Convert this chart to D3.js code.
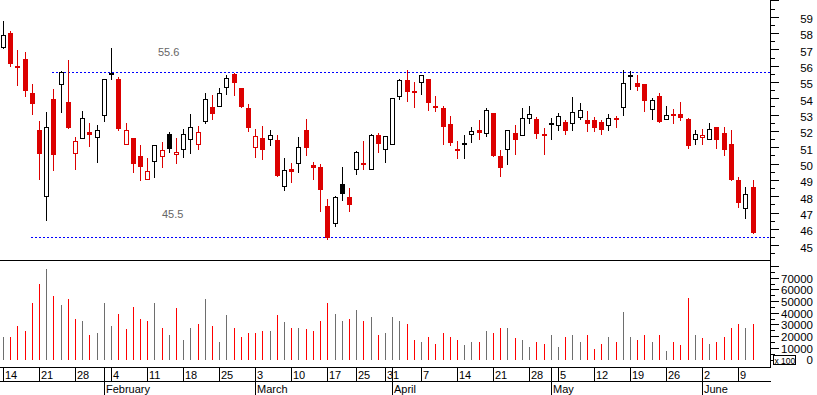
<!DOCTYPE html>
<html lang="en">
<head>
<meta charset="utf-8">
<title>Candlestick chart</title>
<script src="https://cdn.jsdelivr.net/npm/d3@7"></script>
<style>
  html, body { margin: 0; padding: 0; background: #fff; }
  svg { display: block; font-family: "Liberation Sans", Arial, sans-serif; }
  text { fill: #000; }
</style>
</head>
<body>
<svg id="chart" width="817" height="395"></svg>
<script>
// trading days, 2008 (Good Friday, Easter Monday and 1 May missing)
var dates = [
  "2008-01-14","2008-01-15","2008-01-16","2008-01-17","2008-01-18","2008-01-21","2008-01-22","2008-01-23","2008-01-24","2008-01-25",
  "2008-01-28","2008-01-29","2008-01-30","2008-01-31","2008-02-01","2008-02-04","2008-02-05","2008-02-06","2008-02-07","2008-02-08",
  "2008-02-11","2008-02-12","2008-02-13","2008-02-14","2008-02-15","2008-02-18","2008-02-19","2008-02-20","2008-02-21","2008-02-22",
  "2008-02-25","2008-02-26","2008-02-27","2008-02-28","2008-02-29","2008-03-03","2008-03-04","2008-03-05","2008-03-06","2008-03-07",
  "2008-03-10","2008-03-11","2008-03-12","2008-03-13","2008-03-14","2008-03-17","2008-03-18","2008-03-19","2008-03-20","2008-03-25",
  "2008-03-26","2008-03-27","2008-03-28","2008-03-31","2008-04-01","2008-04-02","2008-04-03","2008-04-04","2008-04-07","2008-04-08",
  "2008-04-09","2008-04-10","2008-04-11","2008-04-14","2008-04-15","2008-04-16","2008-04-17","2008-04-18","2008-04-21","2008-04-22",
  "2008-04-23","2008-04-24","2008-04-25","2008-04-28","2008-04-29","2008-04-30","2008-05-02","2008-05-05","2008-05-06","2008-05-07",
  "2008-05-08","2008-05-09","2008-05-12","2008-05-13","2008-05-14","2008-05-15","2008-05-16","2008-05-19","2008-05-20","2008-05-21",
  "2008-05-22","2008-05-23","2008-05-26","2008-05-27","2008-05-28","2008-05-29","2008-05-30","2008-06-02","2008-06-03","2008-06-04",
  "2008-06-05","2008-06-06","2008-06-09","2008-06-10","2008-06-11"
];

var open = [
  57.15,57.98,55.97,56.39,54.30,52.06,48.04,53.95,54.89,53.77, 50.63,51.55,51.93,51.61,52.95,55.55,55.17,51.18,51.57,50.47,
  49.04,50.14,50.49,51.79,50.57,50.87,51.49,51.18,52.59,53.46, 53.56,54.72,55.48,54.66,53.40,51.00,51.57,51.49,51.45,48.66,
  49.67,50.06,52.06,49.92,49.80,47.41,46.39,48.76,47.96,49.65, 50.04,49.69,51.75,50.92,51.22,54.15,55.15,54.44,54.97,55.17,
  53.56,53.40,52.42,50.90,51.26,51.83,52.06,51.89,53.10,50.47, 50.87,51.87,51.73,52.77,52.73,51.81,52.46,52.34,52.55,52.46,
  52.83,52.65,52.65,52.52,52.34,52.81,53.48,55.38,54.91,54.87, 53.32,54.13,52.75,53.03,53.03,52.73,51.49,51.61,51.49,52.24,
  51.87,51.20,49.00,47.27,48.55
];
var high = [
  58.72,58.10,56.94,56.82,54.87,52.61,53.16,54.56,55.66,56.33, 51.63,53.22,52.48,52.36,55.17,57.07,55.29,52.48,51.57,51.14,
  50.35,51.12,51.32,51.91,51.57,52.10,53.01,52.30,54.30,54.19, 54.62,55.42,55.56,54.66,53.64,52.10,52.30,52.06,51.75,50.35,
  50.04,51.63,52.73,50.10,49.98,47.84,48.02,49.80,48.51,50.75, 51.38,51.79,51.87,51.67,53.99,55.20,55.72,54.99,55.40,55.17,
  54.13,53.52,52.91,51.38,51.75,52.26,52.67,53.42,53.10,50.83, 52.04,52.36,53.38,53.52,52.85,52.18,52.77,53.10,52.65,54.07,
  53.71,53.22,52.83,52.65,53.01,52.91,55.76,55.66,55.42,54.87, 54.05,54.32,53.56,53.34,53.77,52.79,52.06,52.10,52.48,52.24,
  52.24,52.06,49.18,48.55,48.99
];
var low = [
  57.10,55.99,54.81,54.13,53.05,49.08,46.52,49.61,53.16,52.20, 49.69,51.55,51.10,50.10,52.63,55.19,52.06,51.18,49.49,48.97,
  49.04,49.20,49.82,50.73,50.04,50.43,50.67,50.92,52.46,52.71, 53.56,54.24,54.19,53.48,51.99,50.43,50.30,51.14,49.27,48.41,
  48.88,49.49,50.53,49.06,47.08,45.38,46.19,47.78,47.11,49.39, 49.67,49.69,50.71,50.10,51.22,53.95,53.83,53.46,54.26,53.28,
  53.22,51.20,51.14,50.37,50.35,51.32,51.53,51.71,50.49,49.27, 49.98,50.59,51.73,52.50,51.59,50.59,51.53,52.08,51.83,52.08,
  52.71,52.02,52.02,51.83,52.08,52.26,53.00,54.58,54.54,53.24, 52.75,52.57,52.71,52.50,52.67,50.98,51.18,51.18,51.49,50.98,
  50.55,49.02,47.37,46.68,45.74
];
var close = [
  57.86,56.11,55.93,54.46,53.67,50.61,52.22,50.53,55.60,52.20, 51.38,52.79,51.77,52.04,55.17,55.58,52.12,52.04,50.00,49.82,
  49.53,51.12,50.81,50.92,50.69,51.79,52.22,51.91,53.93,53.07, 54.30,55.27,54.91,53.48,52.20,51.67,50.85,51.73,49.27,49.59,
  49.49,51.02,50.96,49.75,48.39,45.44,47.94,48.15,47.47,50.69, 49.92,51.73,51.22,51.67,53.99,55.15,54.38,54.34,55.40,53.73,
  53.40,52.26,51.28,50.79,51.16,52.00,51.89,53.28,50.49,49.75, 52.04,51.47,52.77,53.01,51.83,51.71,52.36,52.89,52.02,53.14,
  53.26,52.44,52.20,52.04,52.77,52.75,54.91,55.42,54.70,53.85, 53.89,52.57,52.95,52.93,52.77,51.10,51.79,51.73,52.12,51.43,
  50.85,49.02,47.62,48.15,45.74
];
var volume = [
  19100,19100,29100,24800,48000,64300,77100,54000,47100,51400, 34300,33400,21400,22300,48000,29100,38600,25700,44600,35100,
  33400,48800,26600,20600,43700,16300,27400,30800,51400,29100, 15400,37700,26600,19700,22300,22300,24800,24000,37700,31700,
  26600,27400,25700,24000,33400,48000,39400,33400,35100,42000, 32600,36000,21400,23100,36000,32600,30000,16300,15400,18900,
  12900,23100,18900,16300,12000,15400,14600,24000,23100,27400, 27400,18000,17100,10300,14600,12900,21400,11100,19700,20600,
  15400,20600, 9400,13700,18900,15400,40300,18900,16300,20600, 14600,20600, 6900,14600,12000,52300,20600,18000,12900,14600,
  18900,26600,30800,27400,30000
];

// horizontal reference levels
var levelValues = [55.6, 45.5];
var levelStart = ["2008-01-23", "2008-01-18"];

// bottom axis labels
var weekTicks = ["2008-01-14","2008-01-21","2008-01-28","2008-02-04","2008-02-11","2008-02-18","2008-02-25","2008-03-03",
  "2008-03-10","2008-03-17","2008-03-25","2008-03-31","2008-04-07","2008-04-14","2008-04-21","2008-04-28","2008-05-05",
  "2008-05-12","2008-05-19","2008-05-26","2008-06-02","2008-06-09"];
var monthStarts = ["2008-02-01","2008-03-03","2008-04-01","2008-05-02","2008-06-02"];
var monthNames = ["February","March","April","May","June"];

var priceTicks = d3.range(45, 60.01, 1);
var priceMinor = d3.range(44.5, 60.01, 0.5);
var volTicks = d3.range(0, 80001, 10000);
var volMinor = d3.range(0, 80001, 5000);

var AX = 770.5;           // right axis
var RED = "#dc0000", VRED = "#ff0000", VGRAY = "#6e6e6e", BLUE = "#0000ff";

var svg = d3.select("#chart");
svg.append("rect").attr("width", 817).attr("height", 395).attr("fill", "#fff");

var x = d3.scalePoint().domain(dates).range([3, 752.5]);
var y = d3.scaleLinear().domain([45, 60]).range([245.3, 0.35]);
var yv = d3.scaleLinear().domain([0, 80000]).range([359.5, 266.1]);

function px(d) { return Math.round(x(d)); }

var data = dates.map(function (d, i) {
  return {
    date: d, o: open[i], h: high[i], l: low[i], c: close[i], v: volume[i],
    down: i > 0 && close[i] < close[i - 1]
  };
});

// reference levels
levelValues.forEach(function (v, k) {
  svg.append("line")
    .attr("shape-rendering", "crispEdges")
    .attr("x1", px(levelStart[k]) - 1).attr("x2", AX)
    .attr("y1", Math.round(y(v)) + 0.5).attr("y2", Math.round(y(v)) + 0.5)
    .attr("stroke", BLUE).attr("stroke-dasharray", "2,2");
});
svg.append("text").attr("x", 158).attr("y", 55.5).attr("font-size", 11)
  .style("fill", "#666").text(levelValues[0]);
svg.append("text").attr("x", 162).attr("y", 218).attr("font-size", 11)
  .style("fill", "#666").text(levelValues[1]);

// candles
var candles = svg.append("g").attr("shape-rendering", "crispEdges")
  .selectAll("g").data(data).enter().append("g");

candles.append("line")
  .attr("x1", function (d) { return px(d.date) + 0.5; })
  .attr("x2", function (d) { return px(d.date) + 0.5; })
  .attr("y1", function (d) { return Math.round(y(d.h)); })
  .attr("y2", function (d) { return Math.round(y(d.l)) + 1; })
  .attr("stroke", function (d) { return d.down ? RED : "#000"; });

candles.each(function (d) {
  var g = d3.select(this);
  var col = d.down ? RED : "#000";
  var top = Math.round(y(Math.max(d.o, d.c)));
  var bot = Math.round(y(Math.min(d.o, d.c)));
  var cx = px(d.date);
  if (d.c >= d.o) {
    g.append("rect")
      .attr("x", cx - 1.5).attr("y", top + 0.5)
      .attr("width", 4).attr("height", Math.max(bot - top, 1))
      .attr("fill", "#fff").attr("stroke", col);
  } else {
    g.append("rect")
      .attr("x", cx - 2).attr("y", top)
      .attr("width", 5).attr("height", Math.max(bot - top, 2))
      .attr("fill", col);
  }
});

// volume
svg.append("g").attr("shape-rendering", "crispEdges")
  .selectAll("line").data(data).enter().append("line")
  .attr("x1", function (d) { return px(d.date) + 0.5; })
  .attr("x2", function (d) { return px(d.date) + 0.5; })
  .attr("y1", function (d) { return yv(d.v); })
  .attr("y2", yv(0))
  .attr("stroke", function (d) { return d.down ? VRED : VGRAY; });

// frame lines
var frame = svg.append("g").attr("stroke", "#000").attr("shape-rendering", "crispEdges");
frame.append("line").attr("x1", AX).attr("x2", AX).attr("y1", 0).attr("y2", 367.5);
frame.append("line").attr("x1", 0).attr("x2", AX).attr("y1", 260.5).attr("y2", 260.5);
frame.append("line").attr("x1", 0).attr("x2", AX).attr("y1", 367.5).attr("y2", 367.5);
frame.append("line").attr("x1", 0).attr("x2", AX).attr("y1", 381.5).attr("y2", 381.5);

// right axes
function rightAxis(scale, vals, size, fmt, fontSize, dy) {
  var g = svg.append("g").attr("transform", "translate(" + AX + ",0)")
    .attr("shape-rendering", "crispEdges")
    .call(d3.axisRight(scale).tickValues(vals).tickSize(size).tickFormat(fmt));
  g.select(".domain").remove();
  g.selectAll("line").attr("stroke", "#000");
  g.selectAll("text")
    .attr("x", 42.5).attr("dy", dy)
    .attr("text-anchor", "end")
    .attr("font-size", fontSize)
    .attr("font-family", "Liberation Sans, Arial, sans-serif")
    .style("fill", "#000");
  return g;
}
rightAxis(y, priceMinor, 4, function () { return ""; }, 11, "0");
// top tick (60) carries no label in the original
rightAxis(y, priceTicks, 8, function (d) { return d >= 60 ? "" : d3.format("d")(d); }, 11.5, "0.5em");
rightAxis(yv, volMinor, 4, function () { return ""; }, 11, "0");
rightAxis(yv, volTicks, 8, function (d) { return d > 70000 ? "" : d; }, 11.5, "0.38em");

svg.append("rect").attr("x", 773.5).attr("y", 355.5).attr("width", 22).attr("height", 9)
  .attr("fill", "#fff").attr("stroke", "#000").attr("shape-rendering", "crispEdges");
svg.append("text").attr("x", 774.5).attr("y", 363.5).attr("font-size", 8.5).text("x 100");

// bottom date axis
var bottom = svg.append("g");
bottom.selectAll("line.wk").data(weekTicks).enter().append("line")
  .attr("class", "wk").attr("shape-rendering", "crispEdges")
  .attr("x1", function (d) { return px(d) + 0.5; })
  .attr("x2", function (d) { return px(d) + 0.5; })
  .attr("y1", 367.5).attr("y2", 381.5).attr("stroke", "#000");
bottom.selectAll("text.wk").data(weekTicks).enter().append("text")
  .attr("class", "wk")
  .attr("x", function (d) { return px(d) + 2; })
  .attr("y", 379).attr("font-size", 11)
  .text(function (d) { return +d.slice(8); });

bottom.selectAll("line.mo").data(monthStarts).enter().append("line")
  .attr("class", "mo").attr("shape-rendering", "crispEdges")
  .attr("x1", function (d) { return px(d) + 0.5; })
  .attr("x2", function (d) { return px(d) + 0.5; })
  .attr("y1", 367.5).attr("y2", 395).attr("stroke", "#000");
bottom.selectAll("text.mo").data(monthStarts).enter().append("text")
  .attr("class", "mo")
  .attr("x", function (d) { return px(d) + 2; })
  .attr("y", 393).attr("font-size", 11)
  .text(function (d, i) { return monthNames[i]; });
</script>
</body>
</html>
